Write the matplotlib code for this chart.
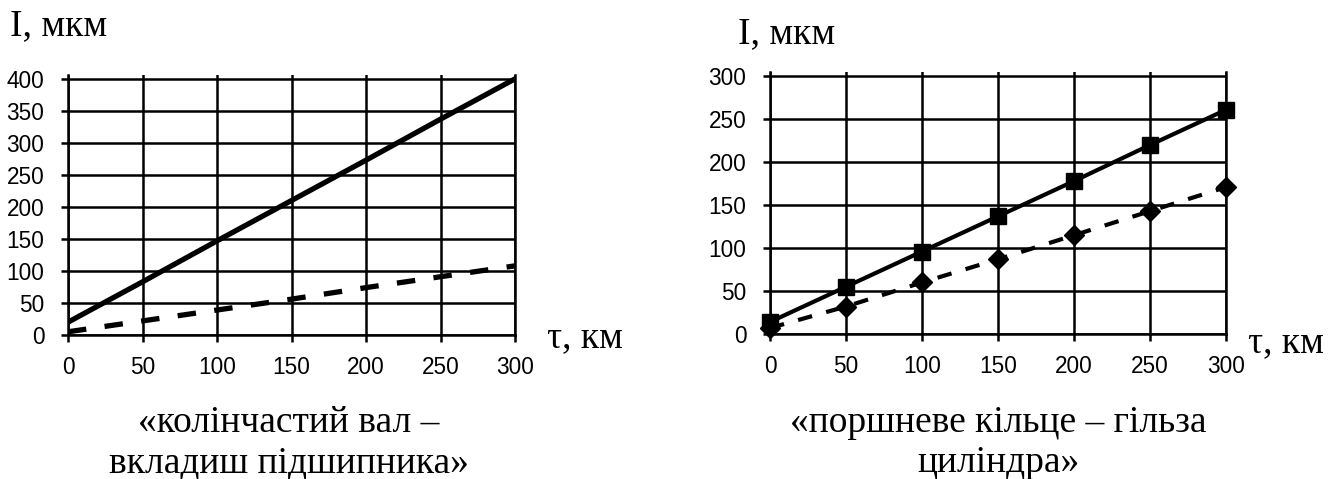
import matplotlib
matplotlib.use("Agg")
import matplotlib.pyplot as plt

# left chart: crankshaft - bearing shell
tau_left = [0, 50, 100, 150, 200, 250, 300]
wear_shaft = [20, 83, 147, 210, 273, 337, 400]
wear_shell = [5, 22, 39, 56, 74, 91, 108]

# right chart: piston ring - cylinder liner
tau_right = [0, 50, 100, 150, 200, 250, 300]
wear_ring = [14, 55, 96, 137, 178, 220, 261]
wear_liner = [7, 32, 60, 87, 115, 143, 171]

left_yticks = [0, 50, 100, 150, 200, 250, 300, 350, 400]
right_yticks = [0, 50, 100, 150, 200, 250, 300]
xticks = [0, 50, 100, 150, 200, 250, 300]

W, H = 1342, 479
fig = plt.figure(figsize=(W / 100, H / 100), dpi=100)

serif = "Liberation Serif"
sans = "Liberation Sans"
big = 27


def style_axes(ax, yticks, ytop):
    ax.set_xlim(0, 300)
    ax.set_ylim(0, ytop)
    ax.set_xticks(xticks)
    ax.set_yticks(yticks)
    ax.grid(True, color="black", linewidth=1.8)
    ax.set_axisbelow(True)
    ax.spines["top"].set_visible(False)
    for s in ["left", "bottom", "right"]:
        ax.spines[s].set_linewidth(1.8)
    ax.tick_params(direction="out", length=5, width=1.8, labelsize=16.3)
    ax.tick_params(axis="x", pad=10)
    ax.tick_params(axis="y", pad=12)
    for lab in ax.get_xticklabels() + ax.get_yticklabels():
        lab.set_fontfamily(sans)


# left panel
ax1 = fig.add_axes([68 / W, 1 - 335 / H, 447 / W, 260 / H])
ax1.plot(tau_left, wear_shaft, color="black", linewidth=3.8,
         solid_capstyle="butt")
ax1.plot(tau_left, wear_shell, color="black", linewidth=3.8,
         dashes=(3.5, 3.5))
style_axes(ax1, left_yticks, 406)

# right panel
ax2 = fig.add_axes([770 / W, 1 - 334 / H, 456 / W, 262 / H])
ax2.plot(tau_right, wear_ring, color="black", linewidth=3,
         marker="s", markersize=11.5, clip_on=False)
ax2.plot(tau_right, wear_liner, color="black", linewidth=3,
         dashes=(3.5, 3.5), marker="D", markersize=10, clip_on=False)
style_axes(ax2, right_yticks, 305)

# axis captions
fig.text(10 / W, 1 - 35 / H, "I, мкм", fontsize=big, family=serif,
         va="baseline")
fig.text(738 / W, 1 - 43 / H, "I, мкм", fontsize=big, family=serif,
         va="baseline")
fig.text(547 / W, 1 - 347 / H, "τ, км", fontsize=big, family=serif,
         va="baseline")
fig.text(1248 / W, 1 - 352 / H, "τ, км", fontsize=big, family=serif,
         va="baseline")

# chart titles
fig.text(289 / W, 1 - 432 / H, "«колінчастий вал –", fontsize=big,
         family=serif, ha="center", va="baseline")
fig.text(289 / W, 1 - 472 / H, "вкладиш підшипника»", fontsize=big,
         family=serif, ha="center", va="baseline")
fig.text(998 / W, 1 - 432 / H, "«поршневе кільце – гільза", fontsize=big,
         family=serif, ha="center", va="baseline")
fig.text(998 / W, 1 - 472 / H, "циліндра»", fontsize=big,
         family=serif, ha="center", va="baseline")

fig.savefig("out.png", dpi=100)
